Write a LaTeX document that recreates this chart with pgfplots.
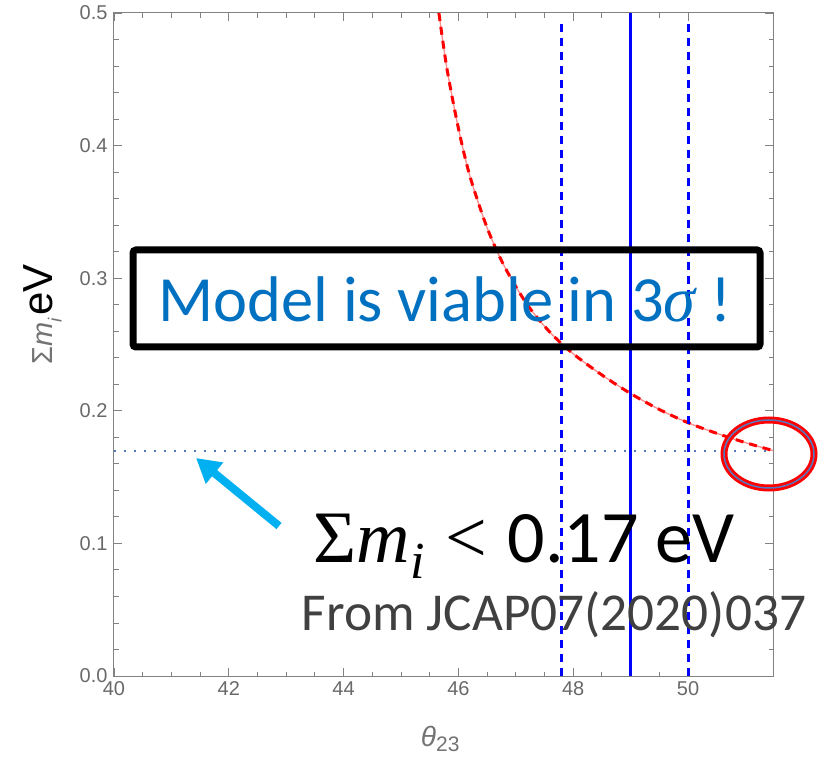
\documentclass[border=0pt]{standalone}
\usepackage{fontspec}
\setmainfont{Carlito}
\newfontfamily\arialfont{Liberation Sans}
\newfontfamily\serif{Liberation Serif}
\usepackage{pgfplots}
\pgfplotsset{compat=1.18}
\usetikzlibrary{arrows.meta}

\definecolor{tickgray}{RGB}{105,105,105}
\definecolor{labelgray}{RGB}{115,115,115}
\definecolor{framegray}{RGB}{130,130,130}
\definecolor{officeblue}{RGB}{0,112,192}
\definecolor{arrowcyan}{RGB}{0,176,240}
\definecolor{dotblue}{RGB}{85,120,190}
\definecolor{darktext}{RGB}{64,64,64}

\begin{document}
\begin{tikzpicture}
\begin{axis}[
  scale only axis, width=659pt, height=663pt,
  xmin=40, xmax=51.48, ymin=0, ymax=0.5,
  xtick={40,42,44,46,48,50}, ytick={0,0.1,0.2,0.3,0.4,0.5},
  minor x tick num=3, minor y tick num=4,
  tick align=inside, major tick length=8pt, minor tick length=4.5pt,
  axis line style={framegray, line width=1pt},
  tick style={framegray, line width=0.9pt},
  /pgf/number format/assume math mode=true,
  ticklabel style={font=\arialfont\fontsize{20}{20}\selectfont, text=tickgray},
  yticklabel style={xshift=-3pt, /pgf/number format/fixed, /pgf/number format/fixed zerofill, /pgf/number format/precision=1},
  xticklabel style={yshift=-2pt},
  xlabel={\textit{θ}\raisebox{-0.2em}{\fontsize{21}{21}\selectfont 23}},
  x label style={at={(rel axis cs:0.495,0)}, anchor=base, yshift=-70pt,
    font=\arialfont\fontsize{28}{28}\selectfont, text=labelgray},
  ylabel={{\color{labelgray}\arialfont\fontsize{29}{29}\selectfont Σ\textit{m}\raisebox{-0.3em}{\fontsize{19}{19}\selectfont\textit{i}}}\ \arialfont\fontsize{42}{42}\selectfont eV},
  y label style={at={(axis description cs:-0.0926,0.545)}, anchor=base},
  clip=false,
]
% red curve: thin pale line with red dashes on top
\addplot[red!45, line width=1.3pt, smooth] coordinates {
  (45.66,0.500) (45.8,0.458) (46.0,0.413) (46.2,0.377) (46.5,0.338)
  (46.8,0.309) (47.2,0.280) (47.6,0.259) (48.0,0.243) (48.5,0.227)
  (49.0,0.213) (49.5,0.201) (50.0,0.191) (50.5,0.183) (51.0,0.176) (51.48,0.170)
};
\addplot[red, line width=3pt, smooth, dash pattern=on 8pt off 6pt] coordinates {
  (45.66,0.500) (45.8,0.458) (46.0,0.413) (46.2,0.377) (46.5,0.338)
  (46.8,0.309) (47.2,0.280) (47.6,0.259) (48.0,0.243) (48.5,0.227)
  (49.0,0.213) (49.5,0.201) (50.0,0.191) (50.5,0.183) (51.0,0.176) (51.48,0.170)
};
% theta23 best fit and 3 sigma range
\addplot[blue, line width=3pt, dash pattern=on 8pt off 6pt] coordinates {(47.8,0) (47.8,0.495)};
\addplot[blue, line width=3pt, dash pattern=on 8pt off 6pt] coordinates {(50.0,0) (50.0,0.495)};
\addplot[blue, line width=3pt] coordinates {(49.0,0) (49.0,0.5)};
% cosmological bound
\addplot[dotblue, line width=2pt, dash pattern=on 2pt off 8pt] coordinates {(40,0.17) (51.48,0.17)};
\coordinate (sw) at (rel axis cs:0,0);
\end{axis}

% annotations (offsets from the lower left corner of the axis box)
\draw[black, line width=7pt, rounded corners=3pt]
  ([shift={(19pt,329pt)}]sw) rectangle ([shift={(646pt,426pt)}]sw);
\node[anchor=base, text=officeblue, font=\fontsize{64.5}{64.5}\selectfont, inner sep=0pt]
  at ([shift={(331pt,354pt)}]sw) {Model is viable in 3{\serif\itshape σ} !};

\draw[arrowcyan, line width=8pt, -{Triangle[length=24pt,width=26pt]}]
  ([shift={(165pt,150pt)}]sw) -- ([shift={(82pt,218pt)}]sw);

\node[anchor=base, font=\fontsize{74}{74}\selectfont, inner sep=0pt]
  at ([shift={(410pt,114pt)}]sw) {{\serif Σ\textit{m}\raisebox{-0.22em}{\fontsize{52}{52}\selectfont\textit{i}}\hspace{0.28em}<\hspace{0.28em}}0.17 eV};
\node[anchor=base, text=darktext, font=\fontsize{53.3}{53.3}\selectfont, inner sep=0pt]
  at ([shift={(440pt,46pt)}]sw) {From JCAP07(2020)037};

\draw[red, line width=7pt] ([shift={(655pt,222pt)}]sw) ellipse [x radius=45pt, y radius=34pt];
\draw[dotblue, line width=1.5pt] ([shift={(655pt,222pt)}]sw) ellipse [x radius=45pt, y radius=34pt];

\pgfresetboundingbox
\path[use as bounding box] ([shift={(-114pt,-82pt)}]sw) rectangle ++(821pt,758pt);
\end{tikzpicture}
\end{document}
